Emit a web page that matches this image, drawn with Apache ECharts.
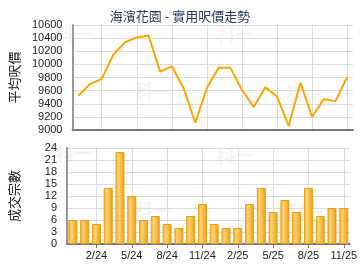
<!DOCTYPE html>
<html><head><meta charset="utf-8">
<script src="https://cdn.jsdelivr.net/npm/echarts@6/dist/echarts.min.js"></script>
<style>html,body{margin:0;padding:0;background:#fff}#c{width:360px;height:270px}</style>
</head><body><div id="c"></div>
<script>
const categories = ['12/23','1/24','2/24','3/24','4/24','5/24','6/24','7/24','8/24','9/24','10/24','11/24','12/24','1/25','2/25','3/25','4/25','5/25','6/25','7/25','8/25','9/25','10/25','11/25'];
const avgPrice = [9520,9700,9780,10150,10340,10410,10440,9890,9970,9640,9110,9640,9950,9950,9610,9350,9650,9510,9060,9720,9200,9470,9440,9810];
const deals = [6,6,5,14,23,12,6,7,5,4,7,10,5,4,4,10,14,8,11,8,14,7,9,9];
const titleText = '海濱花園 - 實用呎價走勢';
const priceAxisName = '平均呎價';
const dealsAxisName = '成交宗數';

const showIdx = (i) => i % 3 === 2;
const font = 'Liberation Sans, Arial, sans-serif';
const chart = echarts.init(document.getElementById('c'), null, {renderer:'canvas'});
const wm = [[76,35],[237,35],[155,92],[306,95],[76,154],[237,156],[155,211],[308,213]].map(p=>({
  type:'text', left:p[0]-20, top:p[1]-10, z:-1,
  style:{text:'科一', fill:'#f3f3f3', font:'bold 18px "Noto Sans CJK TC", sans-serif'}
}));
const xBase = (gi, showLabels) => ({
  type:'category', gridIndex:gi, data:categories, boundaryGap:true,
  axisLine:{show:true, lineStyle:{color:'#777', width:2}},
  axisTick:{show:showLabels, alignWithLabel:true, interval:showIdx, length:4, lineStyle:{color:'#777'}},
  axisLabel:{show:showLabels, interval:showIdx, color:'#222', fontSize:11, fontFamily:font, margin:6},
  splitLine:{show:true, alignWithLabel:true, interval:showIdx, lineStyle:{color:'#dcdcdc', width:1}}
});
const yLabel = {color:'#222', fontSize:11, fontFamily:font, margin:10, formatter:(v)=>String(v)};
chart.setOption({
  animation:false,
  backgroundColor:'#fff',
  title:{text:titleText, left:'center', top:5, textStyle:{color:'#1f3b5e', fontSize:13, fontWeight:'normal', fontFamily:'"Noto Sans CJK TC", sans-serif'}},
  graphic: wm,
  grid:[
    {left:65, top:25, width:288, height:105},
    {left:65, top:148, width:288, height:96}
  ],
  xAxis:[xBase(0,false), xBase(1,true)],
  yAxis:[
    {type:'value', gridIndex:0, min:9000, max:10600, interval:200,
     name:priceAxisName, nameLocation:'middle', nameGap:46,
     nameTextStyle:{color:'#222', fontSize:13, fontFamily:'"Noto Sans CJK TC", sans-serif'},
     axisLine:{show:true, lineStyle:{color:'#999', width:2}}, axisTick:{show:false},
     axisLabel:yLabel,
     splitLine:{lineStyle:{color:'#dcdcdc', width:1}}},
    {type:'value', gridIndex:1, min:0, max:24, interval:3,
     name:dealsAxisName, nameLocation:'middle', nameGap:46,
     nameTextStyle:{color:'#222', fontSize:13, fontFamily:'"Noto Sans CJK TC", sans-serif'},
     axisLine:{show:true, lineStyle:{color:'#999', width:2}}, axisTick:{show:false},
     axisLabel:yLabel,
     splitLine:{lineStyle:{color:'#dcdcdc', width:1}}}
  ],
  series:[
    {type:'line', xAxisIndex:0, yAxisIndex:0, data:avgPrice, symbol:'none',
     lineStyle:{color:'#FFA500', width:2}},
    {type:'bar', xAxisIndex:1, yAxisIndex:1, data:deals, barWidth:9,
     itemStyle:{
       color:new echarts.graphic.LinearGradient(0,0,1,0,[
         {offset:0, color:'#f2a31c'},
         {offset:0.3, color:'#ffd27a'},
         {offset:0.55, color:'#fbc04c'},
         {offset:1, color:'#e99a0c'}
       ]),
       borderColor:'#eaa012', borderWidth:1
     }}
  ]
});
</script></body></html>
